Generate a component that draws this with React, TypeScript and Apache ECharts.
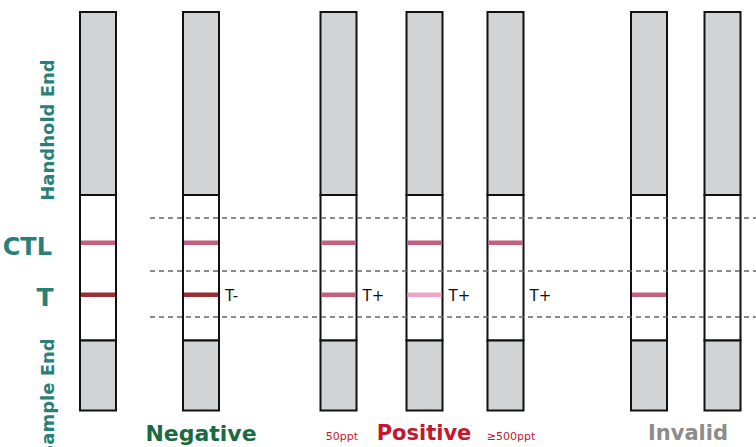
import React, { useEffect, useRef } from "react";
import * as echarts from "echarts";

// Strip centres (horizontal position) and the coloured bands on each strip
const stripCenters = [98, 201, 338.5, 424.5, 505.5, 649, 722.5];
const ctlColors = ["#c4607e", "#c4607e", "#c4607e", "#c4607e", "#c4607e", "", ""];
const tColors = ["#9c2f35", "#9c2f35", "#c4607e", "#eda6c6", "", "#c4607e", ""];
const tLabels = ["", "T-", "T+", "T+", "T+", "", ""];

// Vertical levels along the strip
const stripTop = 12;
const windowTop = 195;
const windowBottom = 340.5;
const stripBottom = 410.5;
const ctlLevel = 242.5;
const tLevel = 294.5;
const dashLevels = [218, 271, 317];
const dashStart = 150;
const dashEnd = 756;

// Group captions
const captions = [
  { text: "Negative", x: 201, y: 433, color: "#1b6b42", size: 22, weight: "bold" },
  { text: "50ppt", x: 342, y: 436, color: "#c0182f", size: 11, weight: "normal" },
  { text: "Positive", x: 424, y: 433, color: "#c0182f", size: 21, weight: "bold" },
  { text: "\u2265500ppt", x: 511, y: 436, color: "#c0182f", size: 11, weight: "normal" },
  { text: "Invalid", x: 688, y: 433, color: "#8c8c8c", size: 21, weight: "bold" },
];

const teal = "#2b7f79";
const FONT = "'DejaVu Sans', sans-serif";

export default function App() {
  const ref = useRef<HTMLDivElement>(null);
  useEffect(() => {
    if (!ref.current) return;
    const chart = echarts.init(ref.current, undefined, { renderer: "svg" });
    const stripW = 36;

    const stripData = stripCenters.map((c, i) => [c, i]);
    const bandData: any[] = [];
    stripCenters.forEach((c, i) => {
      if (ctlColors[i]) bandData.push([c, ctlLevel, ctlColors[i]]);
      if (tColors[i]) bandData.push([c, tLevel, tColors[i]]);
    });
    const tLabelData = stripCenters
      .map((c, i) => [c + stripW / 2 + 6, tLevel, tLabels[i]])
      .filter((d) => d[2]);

    const dashSeries = dashLevels.map((y) => ({
      type: "line",
      data: [
        [dashStart, y],
        [dashEnd, y],
      ],
      symbol: "none",
      silent: true,
      z: 5,
      lineStyle: { color: "#666666", width: 1.5, type: [5, 4] },
    }));

    chart.setOption({
      animation: false,
      grid: { left: 0, right: 0, top: 0, bottom: 0 },
      xAxis: { type: "value", min: 0, max: 756, show: false },
      yAxis: { type: "value", min: 0, max: 447, inverse: true, show: false },
      series: [
        {
          type: "custom",
          data: stripData,
          z: 2,
          renderItem: (params: any, api: any) => {
            const c = api.value(0);
            const [x0, yTop] = api.coord([c - stripW / 2, stripTop]);
            const [x1, yWin] = api.coord([c + stripW / 2, windowTop]);
            const [, yWinB] = api.coord([c, windowBottom]);
            const [, yBot] = api.coord([c, stripBottom]);
            const w = x1 - x0;
            const border = { stroke: "#111", lineWidth: 2 };
            return {
              type: "group",
              children: [
                { type: "rect", shape: { x: x0, y: yTop, width: w, height: yWin - yTop }, style: { fill: "#d2d3d5", ...border } },
                { type: "rect", shape: { x: x0, y: yWin, width: w, height: yWinB - yWin }, style: { fill: "#ffffff", ...border } },
                { type: "rect", shape: { x: x0, y: yWinB, width: w, height: yBot - yWinB }, style: { fill: "#d2d3d5", ...border } },
              ],
            };
          },
        },
        {
          type: "custom",
          data: bandData,
          z: 3,
          renderItem: (params: any, api: any) => {
            const c = api.value(0);
            const y = api.value(1);
            const [x0, yy] = api.coord([c - stripW / 2 + 1, y]);
            const [x1] = api.coord([c + stripW / 2 - 1, y]);
            return {
              type: "rect",
              shape: { x: x0, y: yy - 2, width: x1 - x0, height: 4.5 },
              style: { fill: bandData[params.dataIndex][2] },
            };
          },
        },
        {
          type: "custom",
          data: tLabelData,
          z: 4,
          renderItem: (params: any, api: any) => {
            const [x, y] = api.coord([api.value(0), api.value(1)]);
            return {
              type: "text",
              style: {
                x,
                y: y + 1,
                text: tLabelData[params.dataIndex][2],
                fill: "#111",
                font: `15px 'DejaVu Sans', sans-serif`,
                verticalAlign: "middle",
              },
            };
          },
        },
        ...dashSeries,
        {
          type: "custom",
          data: captions.map((c) => [c.x, c.y]),
          z: 4,
          renderItem: (params: any, api: any) => {
            const cap = captions[params.dataIndex];
            const [x, y] = api.coord([api.value(0), api.value(1)]);
            return {
              type: "text",
              style: {
                x,
                y,
                text: cap.text,
                fill: cap.color,
                font: `${cap.weight} ${cap.size}px ${FONT}`,
                align: "center",
                verticalAlign: "middle",
              },
            };
          },
        },
      ],
      graphic: [
        {
          type: "text",
          x: 47,
          y: 130,
          rotation: Math.PI / 2,
          style: {
            text: "Handhold End",
            fill: teal,
            font: `bold 18px ${FONT}`,
            align: "center",
            verticalAlign: "middle",
          },
        },
        {
          type: "text",
          x: 47,
          y: 398,
          rotation: Math.PI / 2,
          style: {
            text: "Sample End",
            fill: teal,
            font: `bold 18px ${FONT}`,
            align: "center",
            verticalAlign: "middle",
          },
        },
        {
          type: "text",
          x: 52,
          y: 247,
          style: {
            text: "CTL",
            fill: teal,
            font: `bold 24px ${FONT}`,
            align: "right",
            verticalAlign: "middle",
          },
        },
        {
          type: "text",
          x: 45,
          y: 297,
          style: {
            text: "T",
            fill: teal,
            font: `bold 25px ${FONT}`,
            align: "center",
            verticalAlign: "middle",
          },
        },
      ],
    });
    return () => chart.dispose();
  }, []);
  return (
    <div
      ref={ref}
      style={{ position: "absolute", left: 0, top: 0, width: 756, height: 447, background: "#fff" }}
    />
  );
}
